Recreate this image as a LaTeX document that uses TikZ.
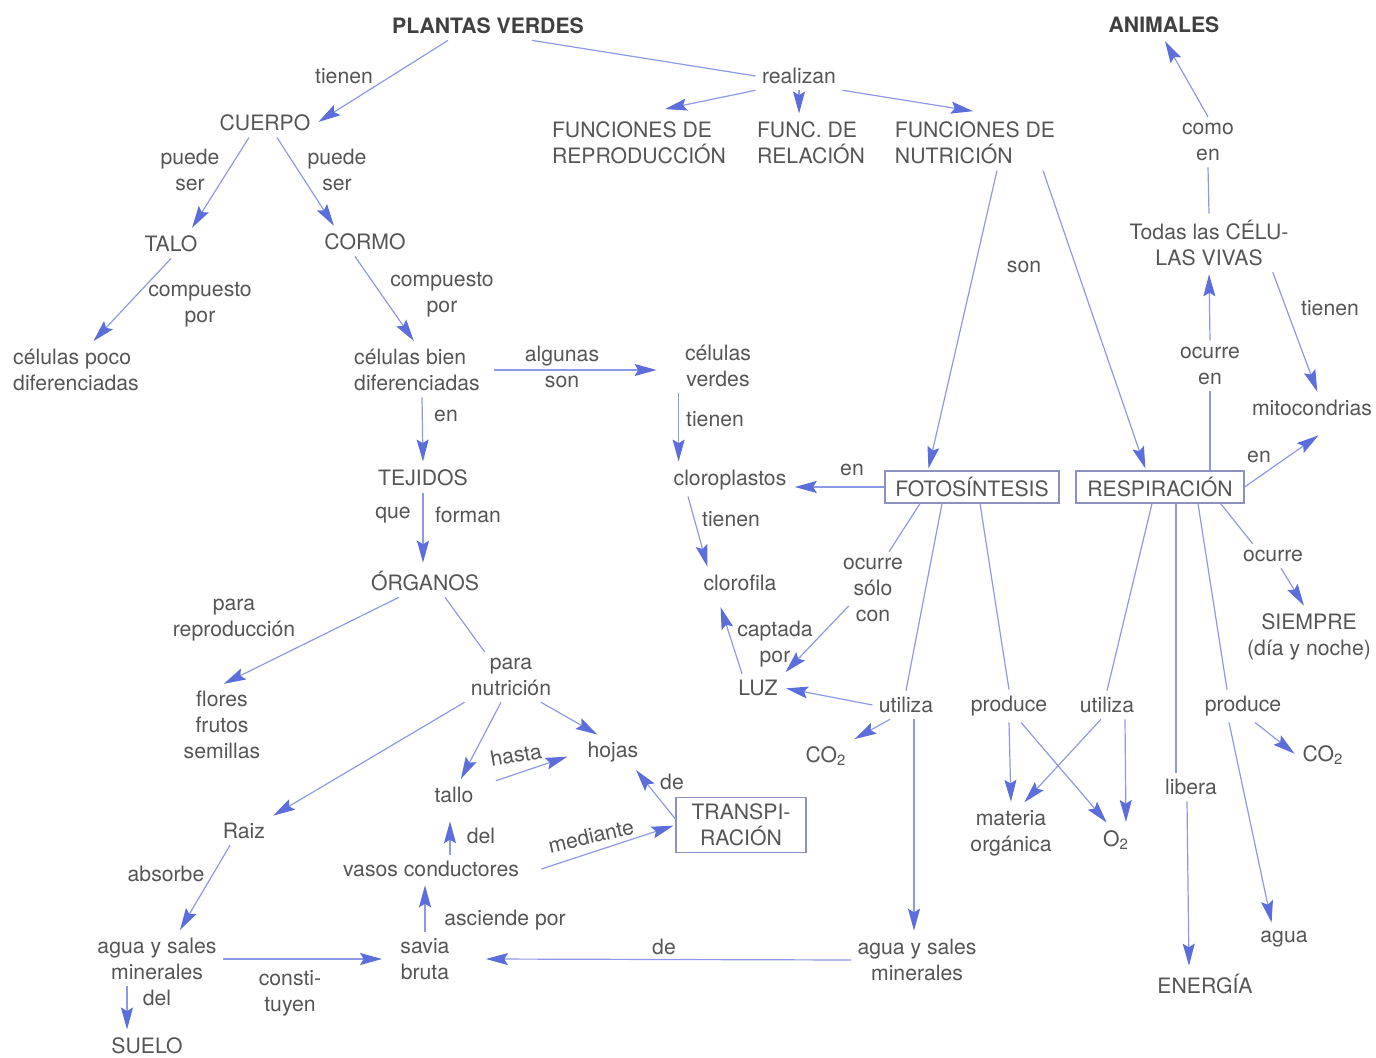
\documentclass[tikz,border=0pt]{standalone}
\usepackage{fontspec}
\setmainfont{TeX Gyre Heros}
\usepackage{xcolor}
\usetikzlibrary{arrows.meta, calc}
\definecolor{linkblue}{RGB}{92,110,220}
\definecolor{inkgray}{RGB}{85,85,85}

\begin{document}
\begin{tikzpicture}[
    x=0.5pt, y=-0.5pt,
    concept/.style={inner sep=3pt, align=center, text=inkgray, font=\fontsize{10.6}{13}\selectfont},
    topconcept/.style={concept, text=black!75, font=\fontsize{10.6}{13}\selectfont\bfseries},
    lbl/.style={concept},
    proc/.style={concept, draw=linkblue!50!gray!80, line width=0.6pt, minimum height=16pt},
    arrow/.style={draw=linkblue!70, line width=0.6pt, -{Stealth[length=11pt, width=6pt, inset=1.8pt, color=linkblue]}, shorten >=1pt},
    conn/.style={draw=linkblue!70, line width=0.6pt}
]
    \useasboundingbox (0,0) rectangle (1376,1058);

    % Top concepts
    \node[topconcept] (pv) at (488,26) {PLANTAS VERDES};
    \node[topconcept] (anim) at (1164,25) {ANIMALES};
    \node[lbl] (realizan) at (799,76) {realizan};
    \node[lbl] (tienenA) at (344,76) {tienen};
    \node[concept] (cuerpo) at (265,123) {CUERPO};

    % Functions
    \node[concept, align=left] (freprod) at (639,143) {FUNCIONES DE\\REPRODUCCIÓN};
    \node[concept, align=left] (frel) at (811,143) {FUNC. DE\\RELACIÓN};
    \node[concept, align=left] (fnut) at (975,143) {FUNCIONES DE\\NUTRICIÓN};

    % Body
    \node[lbl] (puedeA) at (190,170) {puede\\ser};
    \node[lbl] (puedeB) at (337,170) {puede\\ser};
    \node[concept] (talo) at (171,244) {TALO};
    \node[concept] (cormo) at (365,242) {CORMO};
    \node[lbl] (compA) at (200,305) {compuesto\\por};
    \node[lbl] (compB) at (442,295) {compuesto\\por};
    \node[concept, align=left] (cpoco) at (76,370) {células poco\\diferenciadas};
    \node[concept, align=left] (cbien) at (417,370) {células bien\\diferenciadas};
    \node[lbl] (algunas) at (562,367) {algunas\\son};
    \node[concept] (cverdes) at (718,366) {células\\verdes};
    \node[lbl] (enA) at (446,416) {en};
    \node[lbl] (tienenB) at (715,419) {tienen};
    \node[concept] (tejidos) at (423,478) {TEJIDOS};
    \node[lbl] (que) at (393,515) {que};
    \node[lbl] (forman) at (468,515) {forman};
    \node[concept] (organos) at (425,581) {ÓRGANOS};

    % Chloroplasts
    \node[concept] (cloro) at (730,480) {cloroplastos};
    \node[lbl] (enB) at (852,470) {en};
    \node[lbl] (tienenD) at (731,519) {tienen};
    \node[concept] (clorofila) at (740,583) {clorofila};

    % Processes
    \node[proc, minimum width=87pt] (fotos) at (972,487) {FOTOSÍNTESIS};
    \node[proc, minimum width=84pt] (resp) at (1160,487) {RESPIRACIÓN};
    \node[lbl] (son) at (1024,267) {son};

    % Living cells
    \node[lbl] (comoen) at (1208,142) {como\\en};
    \node[concept] (todas) at (1209,243) {Todas las CÉLU-\\LAS VIVAS};
    \node[lbl] (tienenC) at (1330,308) {tienen};
    \node[lbl] (ocurreen) at (1210,366) {ocurre\\en};
    \node[concept] (mito) at (1312,408) {mitocondrias};
    \node[lbl] (enC) at (1259,457) {en};
    \node[lbl] (ocurre) at (1273,556) {ocurre};
    \node[concept] (siempre) at (1309,637) {SIEMPRE\\(día y noche)};

    % Organs
    \node[lbl] (parareprod) at (234,620) {para\\reproducción};
    \node[concept] (flores) at (222,725) {flores\\frutos\\semillas};
    \node[lbl] (paranut) at (511,677) {para\\nutrición};
    \node[concept] (hojas) at (613,752) {hojas};
    \node[lbl, rotate=10] (hasta) at (516,755) {hasta};
    \node[concept] (tallo) at (454,795) {tallo};
    \node[lbl] (deA) at (672,782) {de};
    \node[proc, minimum width=65pt, minimum height=27.5pt] (transp) at (741,825) {TRANSPI-\\RACIÓN};
    \node[concept] (raiz) at (244,831) {Raiz};
    \node[lbl] (del) at (481,836) {del};
    \node[lbl, rotate=13] (mediante) at (591,836) {mediante};
    \node[concept] (vasos) at (431,869) {vasos conductores};
    \node[lbl] (absorbe) at (166,874) {absorbe};
    \node[lbl] (asciende) at (505,920) {asciende por};
    \node[concept] (aguaA) at (157,959) {agua y sales\\minerales};
    \node[lbl] (delB) at (157,998) {del};
    \node[concept] (suelo) at (147,1046) {SUELO};
    \node[lbl] (constituyen) at (290,993) {consti-\\tuyen};
    \node[concept] (savia) at (425,959) {savia\\bruta};
    \node[lbl] (deB) at (664,947) {de};
    \node[concept] (aguaB) at (917,960) {agua y sales\\minerales};

    % Photosynthesis branch
    \node[lbl] (ocurresolo) at (873,590) {ocurre\\sólo\\con};
    \node[lbl] (captada) at (775,644) {captada\\por};
    \node[concept] (luz) at (758,688) {LUZ};
    \node[lbl] (utilA) at (906,705) {utiliza};
    \node[lbl] (prodA) at (1009,706) {produce};
    \node[concept] (coA) at (826,756) {CO\textsubscript{2}};
    \node[concept] (materia) at (1011,833) {materia\\orgánica};
    \node[concept] (otwo) at (1116,840) {O\textsubscript{2}};

    % Respiration branch
    \node[lbl] (utilB) at (1107,705) {utiliza};
    \node[lbl] (prodB) at (1243,706) {produce};
    \node[lbl] (libera) at (1191,787) {libera};
    \node[concept] (coB) at (1323,755) {CO\textsubscript{2}};
    \node[concept] (agua) at (1284,939) {agua};
    \node[concept] (energia) at (1205,984) {ENERGÍA};

    % Connect plantas verdes
    \draw[arrow] ([xshift=-20pt]pv.south) -- (cuerpo.east);
    \draw[conn] ([xshift=22pt]pv.south) -- (realizan.west);
    \draw[arrow] (realizan.south west) -- ([xshift=12pt,yshift=3pt]freprod.north);
    \draw[arrow] (realizan.south) -- (realizan.south |- frel.north);
    \draw[arrow] (realizan.south east) -- ([yshift=2pt]fnut.north);

    % Connect body
    \draw[arrow] ([xshift=-8pt]cuerpo.south) -- ([xshift=10pt]talo.north);
    \draw[arrow] ([xshift=6pt]cuerpo.south) -- ([xshift=-15pt]cormo.north);
    \draw[arrow] (talo.south) -- ([xshift=8pt]cpoco.north);
    \draw[arrow] ([xshift=-5pt]cormo.south) -- ([xshift=-1pt]cbien.north);
    \draw[arrow] ([xshift=4pt]cbien.east) -- ($(cbien.east -| cverdes.west)+(-20,0)$);
    \draw[arrow] ([xshift=2.5pt]cbien.south) -- (tejidos.north);
    \draw[arrow] (tejidos.south) -- (tejidos.south |- organos.north);
    \draw[arrow] (cverdes.south west) -- (cverdes.south west |- cloro.north);

    % Connect photosynthesis
    \draw[arrow] (fotos.west) -- (fotos.west -| cloro.east);
    \draw[arrow] ([xshift=-21pt]cloro.south) -- ([xshift=-16pt]clorofila.north);
    \draw[arrow] ([xshift=11pt]fnut.south) -- ([xshift=-22pt]fotos.north);
    \draw[arrow] ([xshift=34pt]fnut.south) -- ([xshift=-7pt]resp.north);
    \draw[conn] ([xshift=-26pt]fotos.south) -- ([xshift=8pt]ocurresolo.north);
    \draw[arrow] ([xshift=6pt,yshift=-8pt]ocurresolo.west) -- (luz.north east);
    \draw[arrow] ([xshift=-8pt]luz.north) -- ([xshift=-10pt,yshift=-4pt]clorofila.south);
    \draw[conn] ([xshift=-15pt]fotos.south) -- (utilA.north);
    \draw[arrow] (utilA.west) -- (luz.east);
    \draw[arrow] ([xshift=-8pt]utilA.south) -- (coA.north east);
    \draw[arrow] ($(utilA.south)+(8,0)$) -- ($(utilA.south |- aguaB.north)+(8,0)$);
    \draw[arrow] (aguaB.west) -- ([xshift=14pt]savia.east);
    \draw[conn] ([xshift=4pt]fotos.south) -- (prodA.north);
    \draw[arrow] (prodA.south) -- (materia.north);
    \draw[arrow] ([xshift=6pt]prodA.south) -- ([xshift=-4pt]otwo.north);

    % Connect respiration
    \draw[conn] ([xshift=-4pt]resp.south) -- (utilB.north);
    \draw[arrow] ([xshift=-3pt]utilB.south) -- ([xshift=6pt]materia.north);
    \draw[arrow] ([xshift=9pt]utilB.south) -- ([xshift=5pt]otwo.north);
    \draw[conn] ([xshift=8pt]resp.south) -- ($(resp.south |- libera.north)+(16,0)$);
    \draw[arrow] ([xshift=-2pt]libera.south) -- ([xshift=-8pt]energia.north);
    \draw[conn] ([xshift=19pt]resp.south) -- ([xshift=-8pt]prodB.north);
    \draw[arrow] ([xshift=6pt]prodB.south) -- (coB.west);
    \draw[arrow] ([xshift=-7pt]prodB.south) -- ([xshift=-6pt]agua.north);
    \draw[conn] ([xshift=-12pt]resp.south east) -- ([xshift=8pt]ocurre.north west);
    \draw[arrow] ([xshift=4pt]ocurre.south) -- ([xshift=-2pt]siempre.north);
    \draw[arrow] (resp.east) -- ([xshift=4pt,yshift=-6pt]mito.south);
    \draw[conn] (resp.north -| ocurreen) -- (ocurreen.south);
    \draw[arrow] (ocurreen.north) -- (todas.south);
    \draw[arrow] ([xshift=-11pt]todas.south east) -- ([xshift=3pt]mito.north);
    \draw[conn] (todas.north) -- (comoen.south);
    \draw[arrow] (comoen.north) -- (anim.south);

    % Connect organs
    \draw[arrow] ([xshift=-13pt]organos.south) -- (flores.north);
    \draw[conn] ([xshift=10pt]organos.south) -- ([xshift=10pt]paranut.north west);
    \draw[arrow] (paranut.south west) -- (raiz.north east);
    \draw[arrow] ([xshift=-5pt]paranut.south) -- ([xshift=3pt]tallo.north);
    \draw[arrow] ([xshift=15pt]paranut.south) -- ([xshift=9pt]hojas.north west);
    \draw[arrow] ([xshift=8pt]tallo.north east) -- ([xshift=-6pt,yshift=-2pt]hojas.west);
    \draw[arrow] ([yshift=3pt]transp.west) -- ([xshift=-5pt]hojas.south east);
    \draw[arrow] ([xshift=8pt]vasos.east) -- (transp.west);
    \draw[arrow] ([xshift=9.5pt]vasos.north) -- ([xshift=-2pt,yshift=-5pt]tallo.south);
    \draw[arrow] ([xshift=-7pt]raiz.south) -- ([xshift=11pt]aguaA.north);
    \draw[arrow] ([xshift=-15pt]aguaA.south) -- ($(aguaA.south |- suelo.north)+(-30,0)$);
    \draw[arrow] (aguaA.east) -- ($(aguaA.east -| savia.west)+(-10,0)$);
    \draw[arrow] (savia.north) -- (savia.north |- vasos.south);

\end{tikzpicture}
\end{document}
